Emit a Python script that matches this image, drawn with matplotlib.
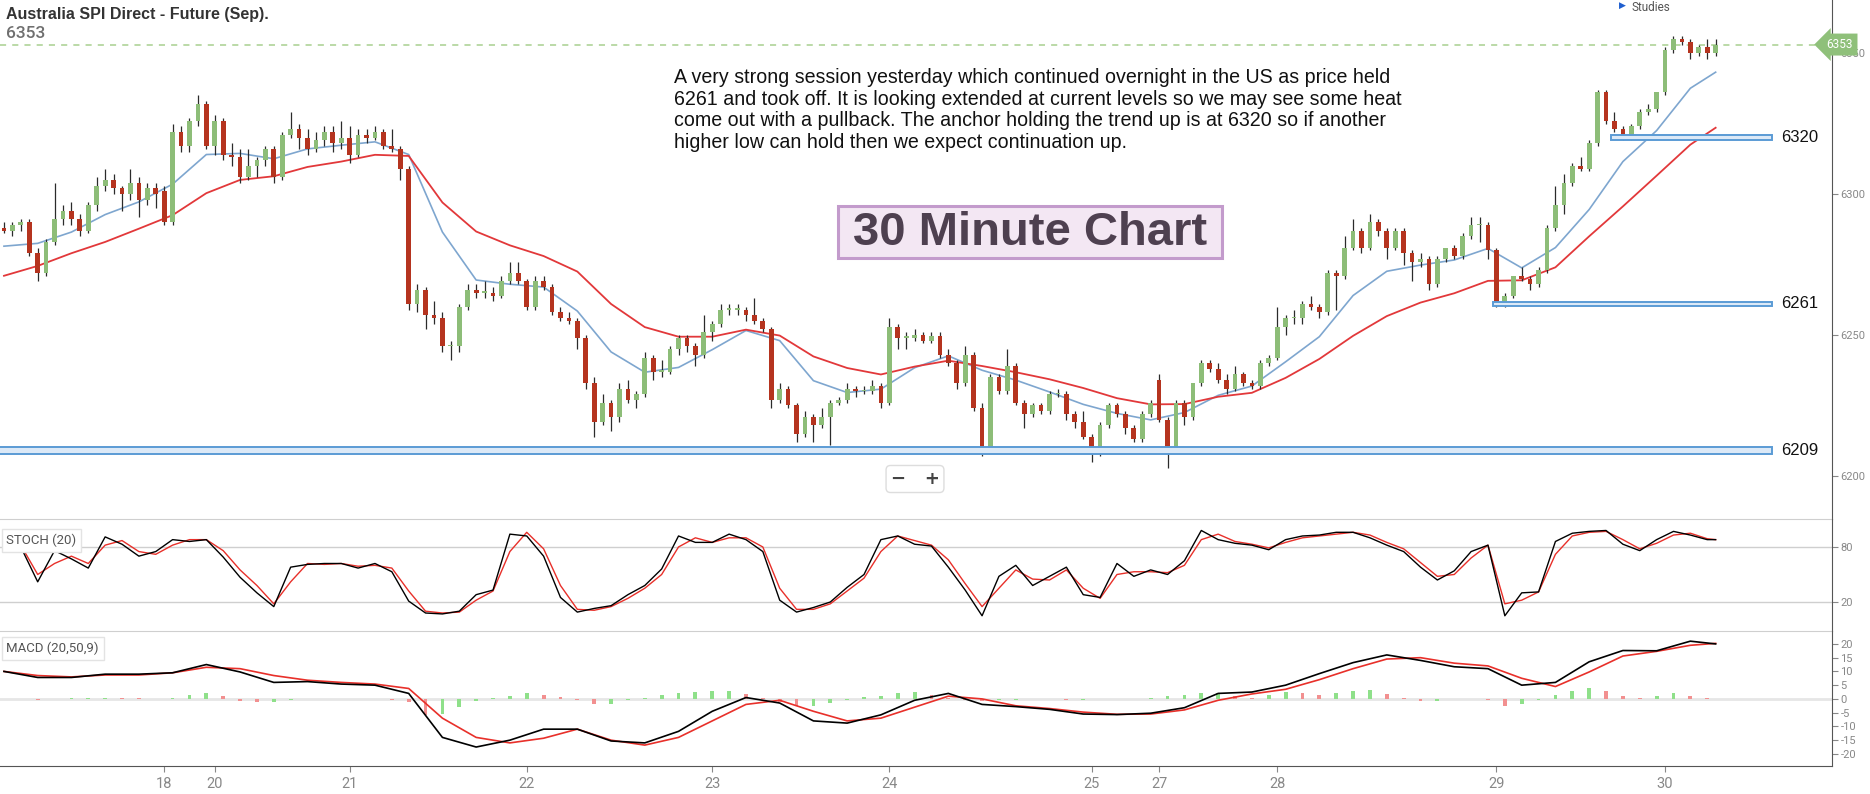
import matplotlib
matplotlib.use("Agg")
import matplotlib.pyplot as plt
import numpy as np
from matplotlib.patches import Rectangle

plt.rcParams["axes.unicode_minus"] = False
plt.rcParams["font.family"] = ["Roboto", "DejaVu Sans"]

# --- 30 minute candles (OHLC) ---
opens = [6288, 6287, 6289, 6290, 6279, 6272, 6283, 6291, 6294, 6291,
         6287, 6296, 6303, 6305, 6302, 6300, 6304, 6298, 6302, 6301,
         6290, 6322, 6317, 6326, 6332, 6317, 6326, 6314, 6313, 6306,
         6310, 6312, 6316, 6306, 6321, 6323, 6320, 6316, 6319, 6322,
         6318, 6320, 6314, 6321, 6320, 6322, 6317, 6316, 6309, 6261,
         6266, 6257, 6256, 6246, 6246, 6260, 6266, 6265, 6265, 6264,
         6269, 6272, 6269, 6260, 6269, 6267, 6258, 6256, 6255, 6249,
         6233, 6219, 6226, 6221, 6231, 6227, 6229, 6242, 6237, 6237,
         6245, 6249, 6246, 6243, 6251, 6254, 6259, 6259, 6259, 6257,
         6255, 6252, 6227, 6231, 6225, 6215, 6221, 6218, 6221, 6226,
         6227, 6231, 6230, 6230, 6232, 6226, 6253, 6249, 6249, 6250,
         6248, 6249.5, 6243, 6240, 6233, 6243, 6224, 6209, 6235, 6230,
         6239, 6226, 6222, 6225, 6223, 6229, 6229, 6222, 6219, 6214,
         6208, 6218, 6225, 6222, 6217, 6213, 6222, 6234, 6220, 6209,
         6226, 6221, 6233, 6240, 6238, 6234, 6231, 6236, 6233, 6232,
         6240, 6242, 6253, 6256, 6256, 6261, 6260, 6258, 6272, 6271,
         6281, 6287, 6281, 6290, 6287, 6281, 6287, 6279, 6276, 6277,
         6268, 6277, 6281, 6278, 6285, 6289, 6289, 6280, 6261, 6264,
         6271, 6270, 6268, 6273, 6288, 6296, 6304, 6310, 6309, 6318,
         6336, 6326, 6323, 6320, 6324, 6329, 6330, 6336, 6351, 6355,
         6354, 6350, 6352, 6350]
highs = [6290, 6290, 6291, 6291, 6281, 6284, 6304, 6296, 6297, 6293,
         6297, 6306, 6309, 6307, 6303, 6309, 6306, 6304, 6304, 6303,
         6325, 6324, 6327, 6335, 6333, 6328, 6327, 6318, 6316, 6316,
         6313, 6317, 6317, 6322, 6329, 6325, 6323, 6322, 6324, 6324,
         6326, 6324, 6323, 6323, 6324, 6323, 6323, 6317, 6310, 6268,
         6267, 6262, 6258, 6248, 6261, 6268, 6268, 6269, 6267, 6271,
         6276, 6276, 6270, 6271, 6271, 6268, 6260, 6258, 6256, 6250,
         6235, 6229, 6227, 6233, 6234, 6230, 6244, 6243, 6241, 6246,
         6250, 6250, 6247, 6257, 6255, 6261, 6261, 6261, 6260, 6263,
         6256, 6253, 6233, 6232, 6226, 6223, 6222, 6224, 6227, 6228,
         6233, 6232, 6232, 6234, 6233, 6256, 6254, 6251, 6252, 6251,
         6251, 6251, 6245, 6241, 6246, 6244, 6226, 6236, 6236, 6245,
         6240, 6227, 6226, 6226, 6230, 6231, 6230, 6223, 6223, 6215,
         6219, 6226, 6226, 6223, 6218, 6223, 6227, 6236, 6221, 6227,
         6227, 6233, 6241, 6241, 6240, 6236, 6239, 6237, 6234, 6241,
         6243, 6260, 6257, 6259, 6262, 6264, 6261, 6273, 6273, 6285,
         6291, 6288, 6293, 6291, 6288, 6288, 6288, 6280, 6279, 6278,
         6278, 6281, 6282, 6286, 6292, 6292, 6290, 6281, 6265, 6271,
         6274, 6271, 6274, 6289, 6303, 6307, 6311, 6313, 6319, 6337,
         6337, 6329, 6324, 6325, 6330, 6332, 6336, 6352, 6356, 6356,
         6355, 6353, 6355, 6355]
lows = [6286, 6285, 6287, 6278, 6269, 6271, 6282, 6289, 6289, 6285,
        6286, 6294, 6301, 6300, 6294, 6298, 6292, 6296, 6295, 6289,
        6289, 6315, 6315, 6324, 6316, 6314, 6312, 6310, 6304, 6305,
        6306, 6310, 6304, 6305, 6320, 6316, 6314, 6315, 6317, 6315,
        6316, 6311, 6313, 6318, 6319, 6316, 6315, 6305, 6259, 6258,
        6252, 6254, 6244, 6241, 6244, 6259, 6263, 6263, 6262, 6263,
        6268, 6268, 6259, 6259, 6266, 6257, 6255, 6254, 6245, 6231,
        6214, 6218, 6216, 6219, 6226, 6224, 6228, 6234, 6235, 6236,
        6243, 6244, 6239, 6242, 6248, 6253, 6257, 6257, 6255, 6254,
        6251, 6224, 6226, 6224, 6212, 6214, 6212, 6217, 6211, 6225,
        6226, 6228, 6229, 6229, 6224, 6225, 6245, 6245, 6248, 6247,
        6247, 6242, 6239, 6231, 6232, 6223, 6207, 6208, 6229, 6229,
        6225, 6217, 6221, 6222, 6222, 6228, 6220, 6217, 6213, 6205,
        6207, 6217, 6221, 6215, 6212, 6212, 6221, 6219, 6203, 6208,
        6218, 6220, 6232, 6237, 6233, 6229, 6230, 6232, 6231, 6231,
        6239, 6241, 6250, 6254, 6254, 6259, 6256, 6257, 6259, 6270,
        6280, 6279, 6280, 6285, 6277, 6280, 6275, 6269, 6274, 6266,
        6267, 6276, 6277, 6277, 6284, 6283, 6277, 6260, 6260, 6263,
        6269, 6266, 6267, 6272, 6287, 6293, 6303, 6308, 6308, 6317,
        6325, 6322, 6319, 6319, 6323, 6328, 6329, 6335, 6350, 6353,
        6348, 6349, 6348, 6349]
closes = [6287, 6289, 6290, 6279, 6272, 6283, 6291, 6294, 6291, 6287,
          6296, 6303, 6305, 6302, 6300, 6304, 6298, 6302, 6300, 6290,
          6322, 6317, 6326, 6332, 6317, 6326, 6314, 6313, 6306, 6310,
          6312, 6316, 6306, 6321, 6323, 6320, 6316, 6319, 6322, 6318,
          6320, 6314, 6321, 6320, 6322, 6317, 6316, 6309, 6261, 6266,
          6257, 6256, 6246, 6246, 6260, 6266, 6265, 6265, 6264, 6269,
          6272, 6269, 6260, 6269, 6267, 6258, 6256, 6255, 6249, 6233,
          6219, 6226, 6221, 6231, 6227, 6229, 6242, 6237, 6237, 6245,
          6249, 6246, 6243, 6251, 6254, 6259, 6259, 6259.5, 6257, 6255,
          6252, 6227, 6231, 6225, 6215, 6221, 6218, 6221, 6226, 6227,
          6231, 6230, 6230.5, 6232, 6226, 6253, 6249, 6249.5, 6250, 6248,
          6249.5, 6243, 6240, 6233, 6243, 6224, 6209, 6235, 6230, 6239,
          6226, 6222, 6225, 6223, 6229, 6229.5, 6222, 6219, 6214, 6208,
          6218, 6225, 6222, 6217, 6213, 6222, 6226, 6220, 6209, 6226,
          6221, 6233, 6240, 6238, 6234, 6231, 6236, 6233, 6232, 6240,
          6242, 6253, 6256, 6256.5, 6261, 6260, 6258, 6272, 6271, 6281,
          6287, 6281, 6290, 6287, 6281, 6287, 6279, 6276, 6277, 6268,
          6277, 6281, 6278, 6285, 6289, 6289.5, 6280, 6261, 6264, 6271,
          6270, 6268, 6273, 6288, 6296, 6304, 6310, 6309, 6318, 6336,
          6326, 6323, 6320, 6324, 6329, 6330, 6336, 6351, 6355, 6354,
          6350, 6352, 6350, 6353]

# day labels and the candle where each day starts
day_labels = ["18", "20", "21", "22", "23", "24", "25", "27", "28", "29", "30"]
day_idx = [19, 25, 41, 62, 84, 105, 129, 137, 151, 177, 197]

# moving averages, read every 4th candle
ma_idx = list(range(0, 201, 4)) + [203]
ema_fast = [6281.5, 6282.5, 6286.5, 6292.7, 6297.2, 6303.5, 6314, 6314.4, 6312.5, 6316,
            6317.3, 6318.5, 6314, 6286.5, 6269.5, 6268, 6267, 6258.5, 6244, 6236.8,
            6238.5, 6244.8, 6251.6, 6248, 6233.8, 6229.6, 6230.8, 6238.4, 6242.6, 6237.5,
            6234, 6229.8, 6225.4, 6222.2, 6219.9, 6222.5, 6228.6, 6231.9, 6240.5, 6249.4,
            6264, 6272.6, 6274.8, 6276.6, 6280.7, 6273.8, 6281, 6294.5, 6311.5, 6322.5,
            6337.5, 6343.2]
ema_slow = [6271, 6274.5, 6279, 6283, 6287.7, 6292.5, 6300.3, 6305, 6306.3, 6309.6,
            6311.5, 6313.9, 6313.5, 6297, 6286.7, 6281.8, 6278, 6272.5, 6261, 6252.8,
            6249.4, 6249.4, 6251.9, 6249.8, 6242.4, 6238.3, 6236, 6238.8, 6240.9, 6239,
            6236.8, 6234.3, 6231.2, 6227.6, 6225.4, 6225.5, 6228.1, 6229.5, 6234.8, 6241.5,
            6249.7, 6256.7, 6261.5, 6264.8, 6269.2, 6269.4, 6274, 6285, 6295.6, 6306.5,
            6317.5, 6323.5]

# support levels drawn on the chart and the candle they start from
levels = [6209, 6261, 6320]
level_start = [-1, 176.6, 190.6]

# stochastic (20), every 2nd candle
stoch_idx = list(range(0, 203, 2)) + [203]
stoch_k = [82, 80, 42, 76, 67, 57, 91, 83, 70, 75,
           88, 86, 88, 69, 47, 30, 15, 58, 61, 62,
           62, 57, 62, 53, 21, 8, 7, 10, 28, 33,
           94, 92, 70, 25, 9, 13, 16, 28, 38, 56,
           92, 85, 85, 94, 88, 75, 22, 9, 14, 20,
           36, 50, 88, 92, 83, 81, 58, 33, 5, 48,
           60, 38, 48, 58, 28, 25, 62, 48, 55, 50,
           65, 98, 88, 84, 82, 77, 88, 92, 93, 96,
           96, 90, 82, 75, 58, 44, 54, 75, 82, 5,
           30, 31, 86, 95, 97, 98, 83, 76, 88, 97,
           93, 88, 88]
stoch_d = [80, 82, 50, 62, 70, 62, 82, 87, 75, 72,
           82, 88, 88, 76, 55, 38, 18, 42, 62, 61,
           62, 59, 60, 57, 32, 10, 8, 9, 22, 32,
           75, 96, 78, 38, 12, 11, 15, 24, 35, 50,
           80, 90, 85, 90, 90, 80, 35, 12, 12, 18,
           32, 46, 75, 92, 87, 82, 66, 40, 15, 35,
           55, 45, 44, 55, 35, 24, 50, 53, 53, 52,
           60, 88, 94, 86, 83, 79, 85, 90, 92, 94,
           96, 93, 85, 78, 63, 48, 50, 68, 82, 18,
           22, 31, 72, 92, 96, 97, 88, 78, 84, 93,
           95, 89, 88]

# MACD (20,50,9)
macd_line = [10, 7.8, 7.8, 9, 9, 9.5, 12.5, 9.8, 6, 6.3,
             5.4, 5, 2, -14, -17.5, -15, -11, -11, -15.3, -16,
             -11.8, -4.5, 0.5, -1.5, -8, -8.8, -5.8, -0.5, 2, -2,
             -2.8, -3.8, -5.5, -5.7, -5.2, -3.2, 2, 2.5, 5, 9.2,
             13.2, 16, 14, 11.7, 11, 5, 6, 13.5, 17.6, 17.5,
             21, 20]
macd_signal = [10, 8.5, 8, 8.7, 8.7, 9.5, 11.5, 11, 8.5, 6.8,
               6, 5.4, 3.8, -7, -14, -16, -14.3, -11, -15, -16.8,
               -14, -8, -2, -0.5, -4.5, -8, -7, -3, 1, 0,
               -2.5, -3.5, -4.8, -5.6, -5.5, -4, -0.5, 1.8, 3.5, 7,
               11, 14.5, 15, 13, 12, 7.5, 4.5, 9.8, 15.6, 17.3,
               19.5, 20.2]
hist_idx = list(range(0, 203, 2))
macd_hist = [0, 0, -0.3, 0, 0.2, 0.3, 0.5, 0.3, 0.2, 0,
             0.3, 1.3, 2.2, 1, -0.8, -1.3, -1.2, -0.3, 0, 0,
             0, 0, 0, -0.3, -1, -6, -5.5, -3, -0.8, 0.2,
             1, 2, 1.5, 0.6, -0.3, -2, -1.8, -0.5, 0.3, 1.5,
             2.3, 2.5, 2.8, 3, 1.8, 0.5, -1, -2.5, -2.4, -1.5,
             -0.3, 0.6, 1, 2, 2.5, 1.6, 0.4, -0.5, -0.8, -0.4,
             -0.3, -0.2, -0.2, -0.3, -0.3, -0.2, 0, 0, 0.4, 0.9,
             1.5, 2, 2, 1.2, 0.5, 1.5, 2.4, 2, 1.6, 2.2,
             3, 3.2, 1.8, 0.5, -0.8, -0.6, -0.2, 0, -0.5, -2.5,
             -2, -0.5, 1.5, 3, 4, 3, 1, 0.2, 1.2, 2,
             1, 0.2]

note = ("A very strong session yesterday which continued overnight in the US as price held\n"
        "6261 and took off. It is looking extended at current levels so we may see some heat\n"
        "come out with a pullback. The anchor holding the trend up is at 6320 so if another\n"
        "higher low can hold then we expect continuation up.")

W, H = 1870, 794
fig = plt.figure(figsize=(W / 100, H / 100), dpi=100)


def px_box(x0, y0, x1, y1):
    return [x0 / W, 1 - y1 / H, (x1 - x0) / W, (y1 - y0) / H]


ax = fig.add_axes(px_box(0, 0, 1832, 519))
ax_st = fig.add_axes(px_box(0, 519, 1832, 631))
ax_md = fig.add_axes(px_box(0, 631, 1832, 766))

xlim = (-0.47, 216.8)
band_end = 209.7
band_h = [2.4, 1.6, 1.6]
narrow = ["Liberation Sans Narrow", "Liberation Sans", "DejaVu Sans"]

for a in (ax, ax_st, ax_md):
    a.set_xlim(*xlim)
    a.set_facecolor("none")
    a.yaxis.tick_right()
    a.spines["left"].set_visible(False)
    a.spines["top"].set_visible(False)
    a.spines["right"].set_color("#555555")
    a.tick_params(axis="y", direction="out", length=4, width=0.8,
                  colors="#888888", labelsize=8, pad=2)

# --- price panel ---
x = np.arange(len(closes))
o, h, l, c = (np.array(v, dtype=float) for v in (opens, highs, lows, closes))
up = c >= o
ax.vlines(x, l, h, color="#2b2b2b", lw=0.9, zorder=2)
ax.bar(x, np.maximum(np.abs(c - o), 0.45), bottom=np.minimum(o, c), width=0.56,
       color=np.where(up, "#8dbd78", "#b5341f"), linewidth=0, zorder=3)
ax.plot(ma_idx, ema_fast, color="#7ea6cf", lw=1.2, zorder=1.5)
ax.plot(ma_idx, ema_slow, color="#e2383a", lw=1.3, zorder=1.5)

for lv, st, bh in zip(levels, level_start, band_h):
    ax.add_patch(Rectangle((st, lv - bh / 2), band_end - st, bh, fc="#dce9f7",
                           ec="#5b9bd5", lw=1.4, zorder=5))
    ax.text(band_end + 1.1, lv, str(lv), ha="left", va="center", fontsize=12,
            color="#111111", family=narrow)

last = closes[-1]
ax.axhline(last, color="#a8cf90", lw=1.1, ls=(0, (4, 4)), zorder=1)
ax.text(0.997, last, f"{last:.0f}", transform=ax.get_yaxis_transform(), ha="left",
        va="center", fontsize=8.5, color="white", clip_on=False, zorder=10,
        bbox=dict(boxstyle="larrow,pad=0.38", fc="#8fc07a", ec="none"))

ax.set_ylim(6184.75, 6368.8)
ax.set_yticks([6200, 6250, 6300, 6350])
ax.set_xticks([])
ax.spines["bottom"].set_color("#cfcfcf")

# --- stochastic panel ---
ax_st.axhline(80, color="#cfcfcf", lw=1)
ax_st.axhline(20, color="#cfcfcf", lw=1)
ax_st.plot(stoch_idx, stoch_d, color="#e8302a", lw=1.0)
ax_st.plot(stoch_idx, stoch_k, color="black", lw=1.0)
ax_st.set_ylim(-11.6, 110.5)
ax_st.set_yticks([20, 80])
ax_st.set_xticks([])
ax_st.spines["bottom"].set_color("#cfcfcf")
ax_st.text(0.0035, 0.81, "STOCH (20)", transform=ax_st.transAxes, fontsize=9.5,
           color="#555555", va="center",
           bbox=dict(boxstyle="square,pad=0.35", fc="white", ec="#e3e3e3", lw=1))

# --- MACD panel ---
hist = np.array(macd_hist)
rising = np.diff(hist, prepend=hist[0]) >= 0
ax_md.axhline(0, color="#e6e6e6", lw=2, zorder=0)
ax_md.bar(hist_idx, hist, width=0.45, color=np.where(rising, "#8fe08a", "#f29090"),
          linewidth=0, zorder=1)
ax_md.plot(ma_idx, macd_signal, color="#e8302a", lw=1.2, zorder=2)
ax_md.plot(ma_idx, macd_line, color="black", lw=1.2, zorder=3)
ax_md.set_ylim(-24.4, 24.7)
ax_md.set_yticks(range(-20, 21, 5))
ax_md.set_xticks(day_idx)
ax_md.set_xticklabels(day_labels)
ax_md.tick_params(axis="x", length=4, width=0.8, colors="#888888", labelsize=10.5, pad=4)
ax_md.spines["bottom"].set_color("#555555")
ax_md.text(0.0035, 0.87, "MACD (20,50,9)", transform=ax_md.transAxes, fontsize=9.5,
           color="#555555", va="center",
           bbox=dict(boxstyle="square,pad=0.35", fc="white", ec="#e3e3e3", lw=1))

# --- header and notes ---
fig.text(6 / W, 1 - 14 / H, "Australia SPI Direct - Future (Sep).", fontsize=11.5,
         weight="bold", color="#333333", va="center", family=narrow)
fig.text(6 / W, 1 - 34 / H, f"{last:.0f}", fontsize=12.5, color="#6f6f6f", va="center",
         weight="medium")
fig.text(1619 / W, 1 - 5 / H, "\u25b6", fontsize=6.5, color="#1f5fcf", va="center",
         family=["DejaVu Sans"])
fig.text(1632 / W, 1 - 1 / H, "Studies", fontsize=8.5, color="#555555", va="top")

fig.text(674 / W, 1 - 68 / H, note, fontsize=14.1, color="#111111", va="top",
         ha="left", linespacing=1.17, family=["Liberation Sans", "DejaVu Sans"])

fig.patches.append(Rectangle((838 / W, 1 - 258 / H), 384 / W, 52 / H,
                             transform=fig.transFigure, fc="#f3e7f3", ec="#c39bcc",
                             lw=2.2, zorder=5))
fig.text(1030 / W, 1 - 233 / H, "30 Minute Chart", fontsize=34, weight="bold",
         color="#4e4050", ha="center", va="center", zorder=6,
         family=["Liberation Sans", "DejaVu Sans"])

fig.text(915 / W, 1 - 479 / H, "\u2212   +", fontsize=13, weight="bold", color="#444444",
         ha="center", va="center", family=["DejaVu Sans"],
         bbox=dict(boxstyle="round,pad=0.25", fc="white", ec="#dddddd", lw=1))

fig.savefig("out.png", dpi=100)
